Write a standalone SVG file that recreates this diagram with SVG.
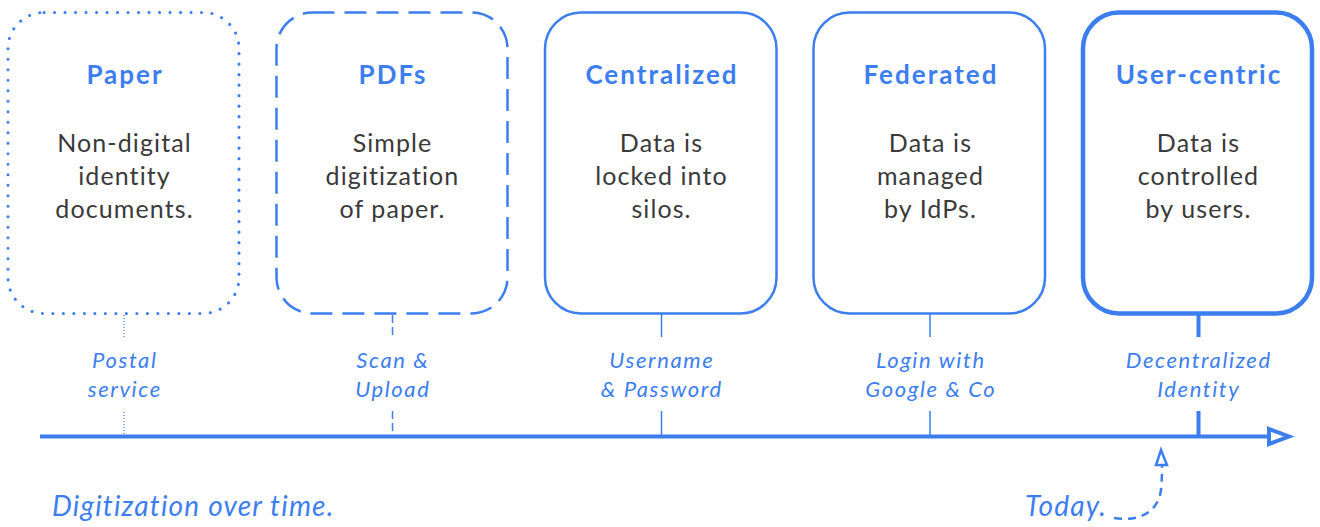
<svg xmlns="http://www.w3.org/2000/svg" width="1320" height="527" viewBox="0 0 1320 527">
<style>
.box{fill:#fff;stroke:#3d7eef;stroke-width:2.5}
.title{font-family:Lato,"Liberation Sans",sans-serif;font-weight:700;font-size:26px;letter-spacing:2px;fill:#3d7eef;text-anchor:middle}
.body{font-family:Lato,"Liberation Sans",sans-serif;font-size:25px;letter-spacing:1.1px;fill:#3a3a3a;text-anchor:middle}
.lbl{font-family:Lato,"Liberation Sans",sans-serif;font-style:italic;font-size:22px;letter-spacing:1.6px;fill:#3d7eef;text-anchor:middle}
.big{font-family:Lato,"Liberation Sans",sans-serif;font-style:italic;font-size:28px;letter-spacing:1.2px;fill:#3d7eef}
.c{stroke:#3d7eef;fill:none}
</style>
<g id="paper">
<rect class="box" x="8" y="12.5" width="231" height="301" rx="36" style="stroke-dasharray:0.1 10.4;stroke-linecap:round;stroke-width:3"/>
<text class="title" x="125" y="84">Paper</text>
<text class="body" x="124.5" y="152">Non-digital</text>
<text class="body" x="124.5" y="185">identity</text>
<text class="body" x="124.5" y="218">documents.</text>
</g>
<g id="pdfs">
<rect class="box" x="276.5" y="12.5" width="231" height="301" rx="36" style="stroke-dasharray:22 10"/>
<text class="title" x="393" y="84">PDFs</text>
<text class="body" x="392.5" y="152">Simple</text>
<text class="body" x="392.5" y="185">digitization</text>
<text class="body" x="392.5" y="218">of paper.</text>
</g>
<g id="centralized">
<rect class="box" x="545" y="12.5" width="231.5" height="301" rx="36"/>
<text class="title" x="662" y="84">Centralized</text>
<text class="body" x="661.5" y="152">Data is</text>
<text class="body" x="661.5" y="185">locked into</text>
<text class="body" x="661.5" y="218">silos.</text>
</g>
<g id="federated">
<rect class="box" x="813.5" y="12.5" width="231.5" height="301" rx="36"/>
<text class="title" x="931" y="84">Federated</text>
<text class="body" x="930.5" y="152">Data is</text>
<text class="body" x="930.5" y="185">managed</text>
<text class="body" x="930.5" y="218">by IdPs.</text>
</g>
<g id="user-centric">
<rect class="box" x="1083" y="12.5" width="229" height="301" rx="36" style="stroke-width:4.5"/>
<text class="title" x="1199" y="84">User-centric</text>
<text class="body" x="1198.5" y="152">Data is</text>
<text class="body" x="1198.5" y="185">controlled</text>
<text class="body" x="1198.5" y="218">by users.</text>
</g>
<g id="connectors">
<path class="c" d="M124 315V337M124 412V434" stroke-width="1.2" stroke-dasharray="1 2"/>
<path class="c" d="M392.5 315V337M392.5 411V435" stroke-width="1.5" stroke-dasharray="8 4"/>
<path class="c" d="M661.5 314V337M661.5 411V436" stroke-width="1.5"/>
<path class="c" d="M930 314V337M930 411V436" stroke-width="1.5"/>
<path class="c" d="M1198.5 314V337M1198.5 411V436" stroke-width="4"/>
<path class="c" d="M40 436.5H1268" stroke-width="4"/>
<polygon points="1269,429 1289,436.5 1269,444" fill="#fff" stroke="#3d7eef" stroke-width="4" stroke-linejoin="miter"/>
<path class="c" d="M1114 518C1140 522 1158 512 1161 490C1162 480 1162 472 1162 466" stroke-width="2.5" stroke-dasharray="8 6"/>
<polygon points="1161,450 1167,465 1156,465" fill="#fff" stroke="#3d7eef" stroke-width="2.5"/>
</g>
<g id="labels">
<text class="lbl" x="124.8" y="368">Postal</text>
<text class="lbl" x="124.8" y="397">service</text>
<text class="lbl" x="392.8" y="368">Scan &amp;</text>
<text class="lbl" x="392.8" y="397">Upload</text>
<text class="lbl" x="661.8" y="368">Username</text>
<text class="lbl" x="661.8" y="397">&amp; Password</text>
<text class="lbl" x="930.8" y="368">Login with</text>
<text class="lbl" x="930.8" y="397">Google &amp; Co</text>
<text class="lbl" x="1198.8" y="368">Decentralized</text>
<text class="lbl" x="1198.8" y="397">Identity</text>
<text class="big" x="52" y="516">Digitization over time.</text>
<text class="big" x="1025" y="516">Today.</text>
</g>
</svg>
